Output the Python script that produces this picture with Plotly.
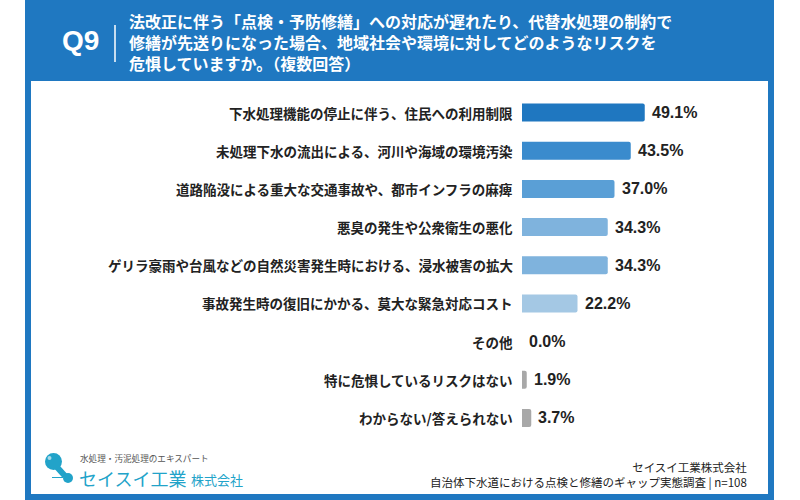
import plotly.graph_objects as go

W, H = 800, 500

categories = [
    "下水処理機能の停止に伴う、住民への利用制限",
    "未処理下水の流出による、河川や海域の環境汚染",
    "道路陥没による重大な交通事故や、都市インフラの麻痺",
    "悪臭の発生や公衆衛生の悪化",
    "ゲリラ豪雨や台風などの自然災害発生時における、浸水被害の拡大",
    "事故発生時の復旧にかかる、莫大な緊急対応コスト",
    "その他",
    "特に危惧しているリスクはない",
    "わからない/答えられない",
]
values = [49.1, 43.5, 37.0, 34.3, 34.3, 22.2, 0.0, 1.9, 3.7]
value_labels = ["49.1%", "43.5%", "37.0%", "34.3%", "34.3%", "22.2%", "0.0%", "1.9%", "3.7%"]
bar_colors = ["#1f77c0", "#3a8bcd", "#5a9fd6", "#7fb3dd", "#7fb3dd", "#a4c8e4",
              "#a8a8a8", "#a8a8a8", "#a8a8a8"]

title_lines = [
    "法改正に伴う「点検・予防修繕」への対応が遅れたり、代替水処理の制約で",
    "修繕が先送りになった場合、地域社会や環境に対してどのようなリスクを",
    "危惧していますか。（複数回答）",
]
footer_lines = ["セイスイ工業株式会社", "自治体下水道における点検と修繕のギャップ実態調査 | n=108"]

CJK = "Noto Sans CJK JP"
LAT = "Liberation Sans, Arial, sans-serif"
BLUE = "#1f78c1"
TEAL = "#22a3c9"


def px(x):
    return x / W


def py(y):
    return 1 - y / H


fig = go.Figure()
fig.add_trace(go.Bar(
    x=values, y=categories, orientation="h",
    marker=dict(color=bar_colors, line=dict(width=0), cornerradius=2),
    width=0.47, hoverinfo="skip",
))

ann = []
for c in categories:
    ann.append(dict(x=0, y=c, xref="x", yref="y", text=c, showarrow=False,
                    xanchor="right", yanchor="middle", xshift=-7,
                    font=dict(family=CJK, size=13.5, color="#222222", weight="bold")))
for v, lab, c in zip(values, value_labels, categories):
    ann.append(dict(x=v, y=c, xref="x", yref="y", text=lab, showarrow=False,
                    xanchor="left", yanchor="middle", xshift=5,
                    font=dict(family=LAT, size=16, color="#222222", weight="bold")))

# header
ann.append(dict(x=px(60), y=py(41), xref="paper", yref="paper", text="Q9", showarrow=False,
                xanchor="left", yanchor="middle",
                font=dict(family=LAT, size=28, color="white", weight="bold")))
ann.append(dict(x=px(127), y=py(41.7), xref="paper", yref="paper", text="<br>".join(title_lines),
                showarrow=False, xanchor="left", yanchor="middle", align="left",
                font=dict(family=CJK, size=16, color="white", weight="bold")))
# footer right
ann.append(dict(x=px(749), y=py(474), xref="paper", yref="paper", text="<br>".join(footer_lines),
                showarrow=False, xanchor="right", yanchor="middle", align="right",
                font=dict(family=CJK, size=11.5, color="#222222")))
# logo texts
ann.append(dict(x=px(78), y=py(458), xref="paper", yref="paper", text="水処理・汚泥処理のエキスパート",
                showarrow=False, xanchor="left", yanchor="middle",
                font=dict(family=CJK, size=8.6, color="#555555")))
ann.append(dict(x=px(77), y=py(477.5), xref="paper", yref="paper", text="セイスイ工業",
                showarrow=False, xanchor="left", yanchor="middle",
                font=dict(family=CJK, size=18, color=TEAL)))
ann.append(dict(x=px(189), y=py(479.5), xref="paper", yref="paper", text="株式会社",
                showarrow=False, xanchor="left", yanchor="middle",
                font=dict(family=CJK, size=13, color=TEAL)))

shapes = [
    dict(type="rect", xref="paper", yref="paper", x0=px(25), x1=px(774), y0=0, y1=1,
         fillcolor=BLUE, line=dict(width=0), layer="below"),
    dict(type="rect", xref="paper", yref="paper", x0=px(31), x1=px(768), y0=py(494), y1=py(81),
         fillcolor="white", line=dict(width=0), layer="below"),
    dict(type="line", xref="paper", yref="paper", x0=px(115), x1=px(115), y0=py(25), y1=py(62),
         line=dict(color="white", width=1.5)),
    # logo
    dict(type="line", xref="paper", yref="paper", x0=px(56), y0=py(466), x1=px(65), y1=py(476),
         line=dict(color=TEAL, width=6)),
    dict(type="circle", xref="paper", yref="paper", x0=px(45), x1=px(62), y0=py(470), y1=py(453),
         fillcolor=TEAL, line=dict(width=0)),
    dict(type="circle", xref="paper", yref="paper", x0=px(63), x1=px(73), y0=py(483), y1=py(473),
         fillcolor=TEAL, line=dict(width=0)),
    dict(type="circle", xref="paper", yref="paper", x0=px(47.5), x1=px(51.5), y0=py(460), y1=py(456),
         fillcolor="rgba(255,255,255,0.6)", line=dict(width=0)),
    dict(type="line", xref="paper", yref="paper", x0=px(52), x1=px(63), y0=py(477.5), y1=py(477.5),
         line=dict(color=TEAL, width=1)),
]

fig.update_layout(
    width=W, height=H,
    margin=dict(l=0, r=0, t=0, b=0),
    paper_bgcolor="white", plot_bgcolor="rgba(0,0,0,0)",
    showlegend=False,
    xaxis=dict(domain=[px(522), px(722)], range=[0, 80], visible=False, fixedrange=True),
    yaxis=dict(domain=[py(437), py(93.5)], autorange="reversed", visible=False,
               categoryorder="array", categoryarray=categories, fixedrange=True),
    annotations=ann, shapes=shapes,
    bargap=0.5,
)

fig.write_html("out.html", config={"displayModeBar": False})
